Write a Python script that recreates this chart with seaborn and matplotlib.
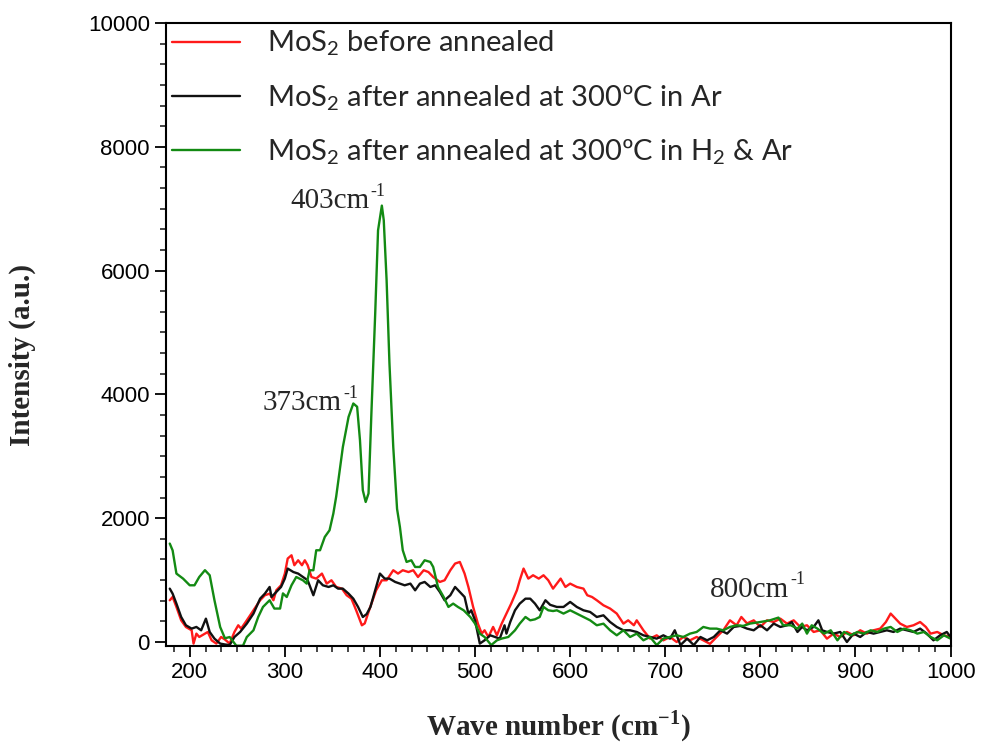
import numpy as np
import pandas as pd
import matplotlib
matplotlib.use('Agg')
import matplotlib.pyplot as plt
from matplotlib.ticker import MultipleLocator, AutoMinorLocator
import seaborn as sns

sns.set_style('ticks')
plt.rcParams['font.family'] = ['Liberation Sans', 'DejaVu Sans']

# Raman spectra (wave number in cm-1, intensity in a.u.)
wave_red = [179, 182, 186, 191, 196, 202, 204, 207, 210, 216, 219, 223, 228, 233, 237, 242, 247, 251, 254, 260,
            267, 274, 279, 284, 288, 291, 296, 300, 303, 307, 310, 314, 318, 321, 324, 328, 333, 339, 344, 349,
            354, 360, 365, 370, 375, 381, 384, 389, 396, 402, 407, 414, 419, 424, 430, 435, 440, 446, 451, 456,
            463, 468, 474, 479, 484, 489, 493, 498, 503, 507, 510, 514, 519, 523, 528, 533, 538, 544, 547, 551,
            556, 561, 567, 572, 577, 582, 586, 590, 595, 600, 607, 614, 618, 623, 628, 635, 642, 649, 656, 661,
            667, 670, 677, 684, 691, 698, 705, 712, 719, 726, 733, 740, 747, 754, 761, 768, 775, 780, 786, 793,
            800, 807, 814, 821, 828, 835, 842, 849, 856, 863, 870, 877, 884, 891, 898, 905, 912, 919, 926, 932,
            937, 942, 947, 954, 961, 968, 974, 979, 986, 993, 1000]
int_red = [674, 727, 566, 350, 242, 189, -26, 135, 81, 135, 162, 27, -26, 81, 40, -26, 162, 270, 216, 350,
           512, 674, 755, 781, 674, 835, 916, 1105, 1348, 1401, 1240, 1320, 1240, 1320, 1240, 1050, 1024, 1105, 943, 997,
           889, 862, 755, 700, 512, 270, 300, 530, 835, 997, 997, 1159, 1105, 1159, 1130, 1159, 1050, 1159, 1130, 1050,
           970, 997, 1159, 1267, 1293, 1105, 889, 566, 297, 135, 189, 81, 243, 108, 297, 458, 620, 835, 997, 1186,
           1024, 1078, 1024, 1078, 997, 862, 943, 1024, 889, 943, 889, 862, 755, 727, 674, 593, 540, 459, 297, 350,
           270, 350, 189, 55, 108, 27, 81, 0, 81, 27, 81, 27, -30, 81, 189, 350, 270, 404, 300, 350,
           243, 350, 323, 377, 297, 350, 243, 270, 162, 189, 54, 135, 81, 162, 108, 189, 135, 189, 216, 323,
           459, 377, 297, 243, 270, 323, 243, 135, 162, 108, 81]

wave_black = [179, 182, 186, 191, 196, 202, 207, 212, 217, 221, 226, 232, 237, 242, 247, 253, 260, 267, 274, 279,
              284, 286, 291, 296, 300, 303, 309, 314, 319, 324, 330, 335, 340, 346, 351, 356, 361, 367, 372, 377,
              382, 386, 390, 395, 400, 405, 410, 416, 421, 426, 432, 437, 442, 447, 453, 458, 463, 468, 474, 479,
              484, 489, 493, 496, 500, 505, 510, 516, 521, 526, 531, 533, 537, 542, 547, 553, 558, 563, 568, 574,
              579, 586, 593, 600, 607, 614, 621, 628, 635, 642, 649, 656, 663, 670, 677, 684, 691, 698, 705, 710,
              716, 723, 730, 737, 744, 751, 758, 765, 772, 779, 786, 793, 800, 807, 814, 821, 828, 833, 839, 844,
              849, 856, 861, 865, 870, 877, 884, 891, 898, 905, 912, 919, 926, 933, 940, 947, 954, 961, 968, 975,
              982, 989, 996, 1000]
int_black = [862, 781, 620, 404, 270, 216, 243, 189, 377, 162, 54, -26, -40, -50, 81, 162, 297, 458, 700, 781,
             889, 727, 808, 889, 1024, 1186, 1130, 1105, 1050, 997, 755, 997, 916, 889, 916, 862, 862, 781, 700, 566,
             404, 450, 566, 835, 1105, 1024, 1024, 970, 943, 916, 943, 835, 943, 970, 889, 916, 808, 674, 755, 889,
             808, 727, 458, 512, 350, -26, 27, 108, 81, 54, 270, 135, 323, 512, 620, 700, 700, 620, 512, 674,
             600, 566, 566, 647, 566, 512, 485, 404, 431, 323, 243, 189, 189, 162, 108, 81, 54, 108, 54, 189,
             -50, 54, -50, 81, 27, 81, 189, 135, 243, 260, 216, 189, 270, 189, 297, 243, 270, 323, 162, 243,
             189, 243, 350, 189, 162, 135, 162, 0, 135, 81, 162, 135, 162, 189, 162, 216, 189, 162, 216, 135,
             27, 108, 162, 81]

wave_green = [179, 182, 186, 193, 200, 205, 210, 216, 221, 226, 232, 237, 242, 249, 256, 260, 267, 272, 277, 284,
              289, 295, 298, 302, 307, 312, 319, 323, 326, 330, 333, 337, 342, 347, 351, 354, 361, 367, 372, 376,
              379, 382, 385, 388, 391, 395, 398, 402, 404, 407, 410, 414, 418, 421, 424, 428, 433, 437, 442, 447,
              453, 456, 461, 467, 472, 477, 482, 488, 495, 500, 505, 510, 517, 523, 528, 535, 542, 547, 553, 558,
              563, 568, 572, 577, 582, 586, 593, 600, 607, 614, 621, 628, 635, 642, 649, 656, 663, 670, 677, 684,
              691, 698, 705, 712, 719, 726, 733, 740, 747, 754, 761, 768, 775, 782, 789, 800, 810, 819, 824, 832,
              839, 844, 849, 854, 860, 867, 874, 881, 888, 895, 902, 909, 916, 923, 930, 937, 944, 951, 958, 965,
              972, 979, 986, 993, 1000]
int_green = [1590, 1480, 1105, 1024, 916, 916, 1050, 1160, 1078, 674, 242, 60, 80, -60, -60, 80, 189, 404, 566, 674,
             540, 540, 785, 727, 916, 1050, 997, 943, 1159, 1159, 1482, 1482, 1697, 1805, 2075, 2350, 3150, 3636, 3853, 3800,
             3260, 2450, 2262, 2400, 3690, 5300, 6650, 7050, 6815, 5845, 4500, 3150, 2150, 1858, 1482, 1293, 1320, 1212, 1212, 1320,
             1293, 1212, 889, 727, 566, 620, 566, 512, 404, 297, 135, 81, -50, 27, 55, 81, 189, 297, 404, 350,
             366, 404, 566, 512, 500, 512, 459, 512, 459, 404, 350, 270, 296, 189, 108, 189, 81, 135, 27, 81,
             -50, 55, 81, 108, 81, 135, 162, 243, 216, 216, 189, 243, 270, 260, 297, 323, 350, 394, 270, 270,
             216, 297, 135, 270, 216, 135, 189, 27, 162, 108, 162, 135, 189, 162, 216, 243, 162, 216, 189, 135,
             162, 81, 27, 108, 54]

labels = ['MoS$\\mathregular{_2}$ before annealed',
          'MoS$\\mathregular{_2}$ after annealed at 300ºC in Ar',
          'MoS$\\mathregular{_2}$ after annealed at 300ºC in H$\\mathregular{_2}$ & Ar']
colors = ['#ff1a1a', '#111111', '#138a13']

peak_pos = [(306, 7010), (277, 3745), (747, 727)]
peak_txt = ['403cm', '373cm', '800cm']

df = pd.concat([
    pd.DataFrame({'wave': wave_red, 'intensity': int_red, 'sample': labels[0]}),
    pd.DataFrame({'wave': wave_black, 'intensity': int_black, 'sample': labels[1]}),
    pd.DataFrame({'wave': wave_green, 'intensity': int_green, 'sample': labels[2]}),
])

fig = plt.figure(figsize=(9.82, 7.49), dpi=100)
ax = fig.add_axes([0.169, 0.1375, 0.799, 0.8318])

sns.lineplot(data=df, x='wave', y='intensity', hue='sample', hue_order=labels,
             palette=colors, estimator=None, sort=False, linewidth=1.7, ax=ax, legend=False)

ax.set_xlim(175, 1000)
ax.set_ylim(-65, 10000)
ax.xaxis.set_major_locator(MultipleLocator(100))
ax.xaxis.set_minor_locator(AutoMinorLocator(6))
ax.yaxis.set_major_locator(MultipleLocator(2000))
ax.yaxis.set_minor_locator(AutoMinorLocator(6))
ax.tick_params(which='major', direction='out', length=8, width=1.3, labelsize=16, colors='black')
ax.tick_params(which='minor', direction='out', length=4, width=1.2)
for sp in ax.spines.values():
    sp.set_linewidth(1.5)
    sp.set_color('black')

ax.set_xlabel('Wave number (cm$^{\\mathregular{-1}}$)', fontfamily='Liberation Serif',
              fontweight='bold', fontsize=21, labelpad=18)
ax.set_ylabel('Intensity (a.u.)', fontfamily='Liberation Serif',
              fontweight='bold', fontsize=21)
ax.yaxis.set_label_coords(-0.165, 0.467)

# peak labels, with a short hyphen superscript like the original
fig.canvas.draw()
for (px, py), s in zip(peak_pos, peak_txt):
    t = ax.text(px, py, s, fontfamily='Liberation Serif', fontsize=21)
    bb = t.get_window_extent(renderer=fig.canvas.get_renderer())
    fig.text(bb.x1 / fig.dpi / fig.get_figwidth() + 0.001, bb.y1 / fig.dpi / fig.get_figheight() - 0.004,
             '-1', fontfamily='Liberation Serif', fontsize=13, va='center')

ax.legend(ax.get_lines()[:3], labels, loc='upper left', frameon=False,
          prop={'family': 'Lato', 'size': 21}, handlelength=2.35, handletextpad=0.92,
          labelspacing=0.85, borderaxespad=0.1, borderpad=0.1)

fig.savefig('out.png', dpi=100)
